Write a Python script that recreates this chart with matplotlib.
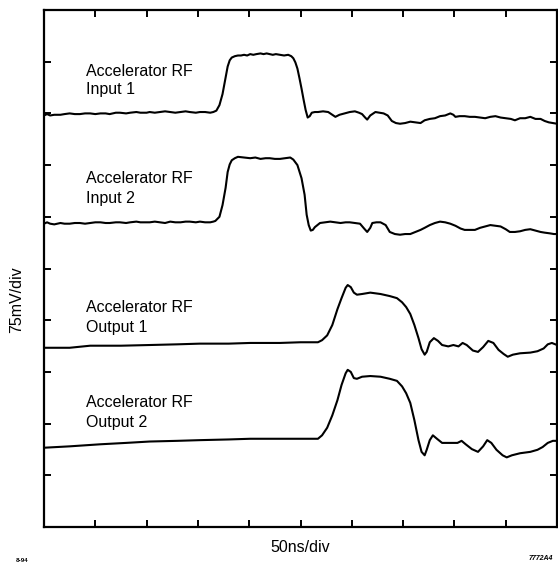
import matplotlib
matplotlib.use("Agg")
import matplotlib.pyplot as plt
import numpy as np

plt.rcParams['font.family'] = ['Liberation Sans', 'DejaVu Sans']

# ---- data: time (ns) and voltage (mV) ----
in1_t = [0, 3, 6, 10, 16, 20, 25, 30, 35, 40, 45, 50, 55, 60, 64, 70, 74, 80, 84, 90, 94, 100, 103, 108, 113,
         118, 123, 128, 133, 138, 142, 148, 152, 157, 162, 165, 168, 171, 174, 177, 179, 181, 183, 186, 189,
         192, 195, 198, 201, 204, 207, 211, 214, 217, 220, 223, 226, 230, 234, 238, 241, 243, 245, 247, 249,
         251, 253, 255, 257, 259, 261, 264, 267, 272, 277, 280, 284, 288, 293, 298, 303, 307, 310, 313, 315,
         318, 323, 327, 331, 335, 339, 343, 347, 352, 357, 362, 367, 371, 376, 381, 386, 391, 396, 399, 401,
         405, 410, 415, 420, 425, 430, 435, 440, 445, 450, 455, 459, 464, 469, 474, 479, 484, 488, 492, 496, 500]
in1_v = [597, 599, 597, 598, 598, 599, 600, 599, 599, 600, 600, 599, 600, 600, 599, 601, 601, 600, 601, 602, 601,
         601, 602, 601, 602, 603, 602, 601, 602, 603, 602, 601, 602, 602, 601, 602, 604, 612, 628, 652, 668, 677,
         681, 683, 684, 684, 685, 684, 686, 685, 686, 687, 686, 687, 686, 685, 686, 685, 684, 685, 683, 680, 674,
         665, 651, 636, 620, 605, 594, 596, 601, 602, 602, 603, 602, 599, 595, 598, 600, 602, 603, 601, 599, 594,
         591, 597, 602, 601, 600, 597, 589, 586, 585, 586, 588, 587, 586, 590, 592, 593, 596, 597, 600, 598, 595,
         596, 596, 595, 595, 594, 593, 595, 596, 594, 593, 592, 590, 593, 593, 595, 592, 592, 589, 587, 586, 585]

in2_t = [0, 3, 6, 10, 16, 20, 25, 30, 35, 40, 45, 50, 55, 60, 64, 70, 74, 80, 84, 90, 94, 100, 103, 108, 113,
         118, 123, 128, 133, 138, 142, 148, 152, 157, 162, 165, 167, 171, 174, 177, 179, 181, 183, 186, 189,
         195, 201, 206, 211, 216, 220, 225, 230, 235, 240, 243, 247, 251, 254, 256, 258, 260, 262, 264, 269,
         274, 279, 284, 289, 294, 298, 303, 308, 312, 315, 318, 320, 324, 328, 333, 337, 342, 347, 352, 357,
         362, 367, 371, 376, 381, 386, 391, 396, 401, 406, 410, 415, 420, 425, 430, 435, 440, 445, 450, 454,
         459, 464, 469, 474, 479, 484, 488, 493, 497, 500]
in2_v = [440, 442, 440, 439, 441, 440, 440, 441, 441, 440, 441, 442, 442, 441, 441, 442, 442, 441, 442, 443, 442,
         442, 442, 443, 442, 441, 443, 442, 442, 443, 443, 442, 443, 442, 442, 443, 444, 450, 467, 492, 515, 526,
         532, 535, 537, 536, 535, 536, 534, 535, 535, 534, 534, 535, 536, 533, 525, 506, 482, 453, 438, 430, 431,
         435, 441, 442, 443, 442, 441, 442, 442, 441, 440, 433, 428, 434, 441, 442, 442, 438, 428, 425, 424, 425,
         425, 428, 431, 434, 438, 441, 443, 442, 440, 437, 433, 431, 431, 431, 434, 436, 438, 437, 436, 432, 428,
         428, 429, 431, 432, 430, 428, 427, 426, 425, 425]

out1_t = [0, 25, 45, 75, 103, 130, 152, 180, 201, 230, 250, 267, 271, 276, 281, 286, 290, 294, 296, 299, 302,
          305, 310, 318, 328, 337, 344, 349, 353, 357, 361, 365, 368, 371, 373, 376, 380, 384, 388, 394, 399,
          404, 408, 412, 418, 423, 428, 433, 438, 443, 448, 452, 457, 464, 474, 481, 487, 491, 495, 500]
out1_v = [260, 260, 263, 263, 264, 265, 266, 266, 267, 267, 268, 268, 271, 278, 293, 316, 332, 347, 351, 348,
          340, 337, 338, 340, 338, 335, 332, 326, 319, 309, 293, 274, 258, 250, 254, 268, 274, 270, 264, 262,
          264, 262, 267, 264, 256, 254, 261, 270, 267, 257, 251, 247, 250, 252, 253, 255, 259, 265, 267, 264]

out2_t = [0, 25, 45, 55, 80, 103, 130, 152, 180, 201, 230, 250, 267, 271, 276, 281, 286, 290, 294, 296, 299,
          302, 305, 310, 318, 328, 337, 344, 349, 353, 357, 361, 365, 368, 371, 373, 376, 379, 383, 388, 396,
          403, 407, 411, 417, 423, 428, 432, 436, 441, 447, 451, 456, 464, 474, 481, 486, 491, 496, 500]
out2_v = [115, 117, 119, 120, 122, 124, 125, 126, 127, 128, 128, 128, 128, 133, 144, 162, 184, 206, 223, 228,
          225, 216, 215, 218, 219, 218, 215, 212, 204, 194, 180, 155, 126, 109, 104, 112, 126, 133, 128, 122,
          122, 122, 125, 120, 113, 109, 117, 126, 122, 112, 104, 101, 104, 107, 109, 112, 116, 122, 125, 125]

labels = [("Accelerator RF", "Input 1"), ("Accelerator RF", "Input 2"),
          ("Accelerator RF", "Output 1"), ("Accelerator RF", "Output 2")]
label_t = 41
label_v = [(661, 634), (506, 477), (319, 290), (180, 151)]

ns_per_div = 50
mv_per_div = 75
n_div = 10

# ---- figure ----
W, H, DPI = 558, 563, 100
fig = plt.figure(figsize=(W / DPI, H / DPI), dpi=DPI)
ax = fig.add_axes([44 / W, 1 - 527 / H, 513 / W, 517 / H])

for t, v in [(in1_t, in1_v), (in2_t, in2_v), (out1_t, out1_v), (out2_t, out2_v)]:
    ax.plot(t, v, color='black', lw=1.5, solid_joinstyle='round', solid_capstyle='round')

for (l1, l2), (v1, v2) in zip(labels, label_v):
    ax.text(label_t, v1, l1, fontsize=11.5, va='center', ha='left')
    ax.text(label_t, v2, l2, fontsize=11.5, va='center', ha='left')

ax.set_xlim(0, ns_per_div * n_div)
ax.set_ylim(0, mv_per_div * n_div)
ax.set_xticks(np.arange(1, n_div) * ns_per_div)
ax.set_yticks(np.arange(1, n_div) * mv_per_div)
ax.set_xticklabels([])
ax.set_yticklabels([])
ax.tick_params(direction='in', length=5, width=1.4, top=True, right=True, color='black')
for s in ax.spines.values():
    s.set_linewidth(1.6)
    s.set_color('black')

fig.text(17 / W, 1 - 300 / H, "75mV/div", rotation=90, fontsize=11.5, ha='center', va='center')
fig.text(300 / W, 1 - 548 / H, "50ns/div", fontsize=11.5, ha='center', va='center')
fig.text(22 / W, 1 - 560 / H, "8-94", fontsize=4.5, fontweight='bold', ha='center', va='center')
fig.text(541 / W, 1 - 558 / H, "7772A4", fontsize=5, fontweight='bold', fontstyle='italic', ha='center', va='center')

fig.savefig("out.png", dpi=DPI)
